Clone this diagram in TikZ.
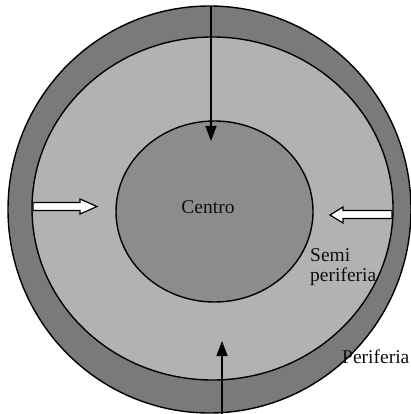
\documentclass[tikz,border=0pt]{standalone}
\usepackage{fontspec}
\setmainfont{Liberation Serif}
\usetikzlibrary{arrows.meta}
\definecolor{ringdark}{RGB}{122,122,122}
\definecolor{ringlight}{RGB}{178,178,178}
\definecolor{coregray}{RGB}{140,140,140}
\definecolor{txt}{RGB}{15,15,15}
\begin{document}
\begin{tikzpicture}[x=1pt,y=-1pt,
  ring/.style={draw=black,line width=1.4pt},
  thinarrow/.style={draw=black,line width=1.3pt,-{Triangle[width=11pt,length=15pt]}},
  hollow/.style={draw=black,fill=white,line width=1.2pt,line join=miter},
  lbl/.style={text=txt,font=\fontsize{19.5}{20}\selectfont,inner sep=0pt}]
\useasboundingbox (0,0) rectangle (410,414);
% rings
\fill[white] (0,0) rectangle (410,414);
\draw[ring,fill=ringdark] (209.5,209.5) ellipse [x radius=201.5,y radius=203.5];
\draw[ring,fill=ringlight] (212.5,208.5) ellipse [x radius=180.5,y radius=171.5];
\draw[ring,fill=coregray] (214.5,211.5) ellipse [x radius=98.5,y radius=90.5];
% thin arrows
\coordinate (topstart) at (211,6);
\coordinate (toptip) at (211,141);
\coordinate (botstart) at (222,414);
\coordinate (bottip) at (222,341);
\draw[thinarrow] (topstart) -- (toptip);
\draw[thinarrow] (botstart) -- (bottip);
% hollow arrows
\draw[hollow] (33,202.5) -- (80,202.5) -- (80,199) -- (97,206.5) -- (80,214) -- (80,210.5) -- (33,210.5) -- cycle;
\draw[hollow] (392,210.5) -- (343,210.5) -- (343,207) -- (330,215) -- (343,223) -- (343,218.5) -- (392,218.5) -- cycle;
% labels
\node[lbl] (centro) at (208,207) {Centro};
\node[lbl,anchor=base west] (semi) at (310,261) {Semi};
\node[lbl,anchor=base west] (peri) at (310,281) {periferia};
\node[lbl,anchor=base west] (periferia) at (342,363) {Periferia};
\end{tikzpicture}
\end{document}
